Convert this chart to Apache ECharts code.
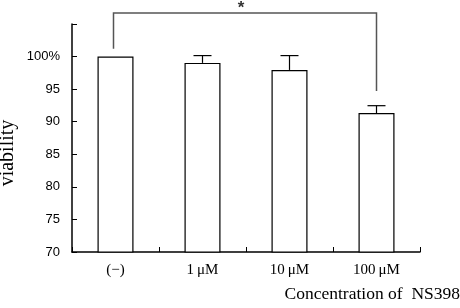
<!DOCTYPE html>
<html>
<head>
<meta charset="utf-8">
<script src="https://cdn.jsdelivr.net/npm/echarts@6/dist/echarts.min.js"></script>
<style>
  html, body { margin: 0; padding: 0; background: #fff; }
  #chart { width: 460px; height: 308px; }
</style>
</head>
<body>
<div id="chart"></div>
<script>
const categories = ["(\u2212)", "1\u2009\u03bcM", "10\u2009\u03bcM", "100\u2009\u03bcM"];
const viability = [100, 99.03, 97.95, 91.34];
const errorUp = [0, 1.12, 2.2, 1.12];
const yTicks = [70, 75, 80, 85, 90, 95, 100, 105];

// significance bracket between control and 100uM
const bracketFrom = 0;
const bracketTo = 3;
const bracketLevel = 106.7;
const bracketLegEnds = [101.2, 94.7];
const bracketMark = "*";

const chart = echarts.init(document.getElementById("chart"), null, { renderer: "canvas" });

const serif = "'Liberation Serif', 'Times New Roman', serif";
const sans = "'Liberation Sans', Arial, sans-serif";

chart.setOption({
  animation: false,
  title: {
    text: "Concentration of  NS398",
    right: 0,
    top: 285,
    padding: 0,
    textStyle: { fontFamily: serif, fontSize: 17.5, fontWeight: "normal", color: "#000" },
  },
  grid: { left: 72, right: 40, top: 24, bottom: 56, containLabel: false, outerBoundsMode: "none" },
  xAxis: {
    type: "category",
    data: categories,
    boundaryGap: true,
    axisLine: { lineStyle: { color: "#000", width: 1.5 } },
    axisTick: { show: true, inside: true, length: 5, lineStyle: { color: "#000" } },
    axisLabel: { fontFamily: serif, fontSize: 15, color: "#000", margin: 11 },
  },
  yAxis: {
    type: "value",
    min: yTicks[0],
    max: yTicks[yTicks.length - 1],
    interval: 5,
    name: "viability",
    nameLocation: "middle",
    nameGap: 54,
    nameMoveOverlap: false,
    nameRotate: 90,
    nameTextStyle: { fontFamily: serif, fontSize: 20, color: "#000", padding: [0, 30, 0, 0] },
    axisLine: { show: true, lineStyle: { color: "#000", width: 1.5 } },
    axisTick: { show: true, inside: true, length: 5, lineStyle: { color: "#000" } },
    axisLabel: {
      fontFamily: sans,
      fontSize: 13,
      color: "#000",
      margin: 12,
      formatter: (v) => (v === 100 ? "100%" : v === 105 ? "" : String(v)),
    },
    splitLine: { show: false },
  },
  series: [
    {
      type: "bar",
      data: viability,
      barWidth: 36,
      itemStyle: { color: "#fff", borderColor: "#000", borderWidth: 1.2 },
      z: 2,
    },
    {
      type: "custom",
      data: viability.map((v, i) => [i, v, errorUp[i]]),
      renderItem: (params, api) => {
        const i = api.value(0);
        const v = api.value(1);
        const e = api.value(2);
        if (!e) return null;
        const base = api.coord([i, v]);
        const top = api.coord([i, v + e]);
        const half = 9;
        return {
          type: "group",
          children: [
            { type: "line", shape: { x1: base[0], y1: base[1], x2: top[0], y2: top[1] }, style: { stroke: "#000", lineWidth: 1.2 } },
            { type: "line", shape: { x1: top[0] - half, y1: top[1], x2: top[0] + half, y2: top[1] }, style: { stroke: "#000", lineWidth: 1.2 } },
          ],
        };
      },
      z: 3,
    },
    {
      type: "custom",
      clip: false,
      data: [[bracketFrom, bracketTo, bracketLevel, bracketLegEnds[0], bracketLegEnds[1]]],
      renderItem: (params, api) => {
        const a = api.coord([api.value(0), api.value(2)]);
        const b = api.coord([api.value(1), api.value(2)]);
        const aEnd = api.coord([api.value(0), api.value(3)]);
        const bEnd = api.coord([api.value(1), api.value(4)]);
        const stroke = { stroke: "#555", lineWidth: 1.5 };
        return {
          type: "group",
          children: [
            { type: "polyline", shape: { points: [[aEnd[0] - 2, aEnd[1]], [a[0] - 2, a[1]], [b[0], b[1]], [bEnd[0], bEnd[1]]] }, style: Object.assign({ fill: null }, stroke) },
            {
              type: "text",
              style: {
                text: bracketMark,
                x: (a[0] + b[0]) / 2 - 5,
                y: a[1] - 13,
                align: "center",
                verticalAlign: "top",
                font: "bold 17px " + sans,
                fill: "#333",
              },
            },
          ],
        };
      },
      z: 4,
    },
  ],
});
</script>
</body>
</html>
